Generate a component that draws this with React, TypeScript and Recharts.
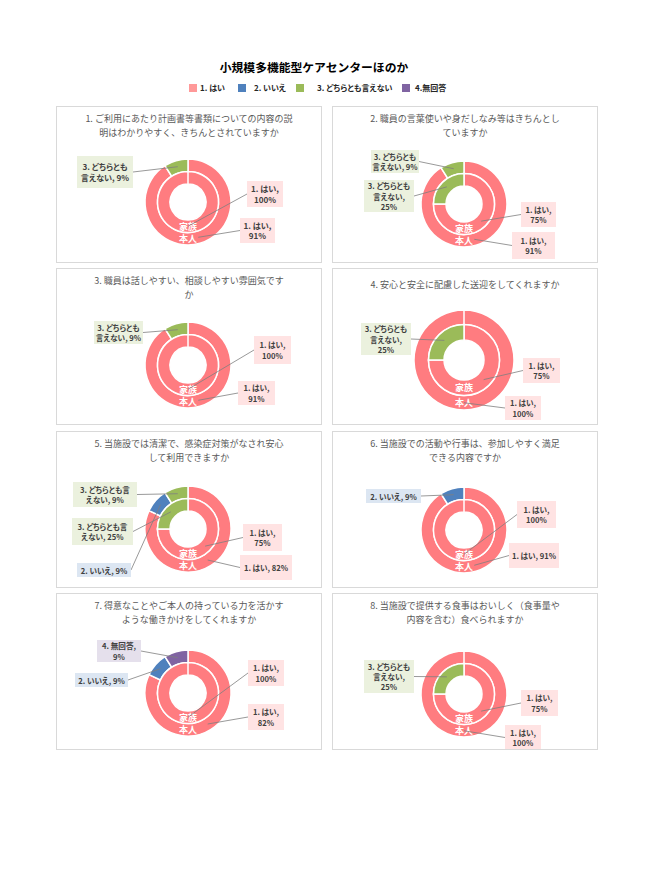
import React from 'react';
import { PieChart, Pie, Cell } from 'recharts';

const categories = ['1. はい', '2. いいえ', '3. どちらとも言えない', '4.無回答'];
const ringNames = ['家族', '本人'];
const chartTitle = '小規模多機能型ケアセンターほのか';
const questionLines = [
  ['1. ご利用にあたり計画書等書類についての内容の説', '明はわかりやすく、きちんとされていますか'],
  ['2. 職員の言葉使いや身だしなみ等はきちんとし', 'ていますか'],
  ['3. 職員は話しやすい、相談しやすい雰囲気です', 'か'],
  ['4. 安心と安全に配慮した送迎をしてくれますか'],
  ['5. 当施設では清潔で、感染症対策がなされ安心', 'して利用できますか'],
  ['6. 当施設での活動や行事は、参加しやすく満足', 'できる内容ですか'],
  ['7. 得意なことやご本人の持っている力を活かす', 'ような働きかけをしてくれますか'],
  ['8. 当施設で提供する食事はおいしく（食事量や', '内容を含む）食べられますか'],
];
// percent per category: [はい, いいえ, どちらとも言えない, 無回答]
const familyValues = [
  [100, 0, 0, 0],
  [75, 0, 25, 0],
  [100, 0, 0, 0],
  [75, 0, 25, 0],
  [75, 0, 25, 0],
  [100, 0, 0, 0],
  [100, 0, 0, 0],
  [75, 0, 25, 0],
];
const selfValues = [
  [91, 0, 9, 0],
  [91, 0, 9, 0],
  [91, 0, 9, 0],
  [100, 0, 0, 0],
  [82, 9, 9, 0],
  [91, 9, 0, 0],
  [82, 9, 0, 9],
  [100, 0, 0, 0],
];

// ---- styles / layout ----
const FONT = '"Noto Sans CJK JP", "Noto Sans", sans-serif';
const SLICE_COLORS = ['#FF7C80', '#4F81BD', '#9BBB59', '#8064A2'];
const LEGEND_COLORS = ['#FF9999', '#4F81BD', '#9BBB59', '#8064A2'];
const BOX_COLORS = ['#FFE3E3', '#DCE6F2', '#EBF1DE', '#E5E0EC'];
const PANEL_LEFTS = [56, 332];
const PANEL_TOPS = [106, 268, 431, 593];
const PANEL_W = 266;
const PANEL_H = 157;

type Box = { ring: number; cat: number; dx: number; dy: number; w: number; h: number; breaks: number[] };
type Layout = { cy: number; big?: boolean; font: number; boxes: Box[] };

const layouts: Layout[] = [
  { cy: 96, font: 8.1, boxes: [
    { ring: 1, cat: 2, dx: -111, dy: -46, w: 56, h: 32, breaks: [8] },
    { ring: 0, cat: 0, dx: 59, dy: -21, w: 36, h: 26, breaks: [6] },
    { ring: 1, cat: 0, dx: 52, dy: 16, w: 35, h: 25, breaks: [6] },
  ] },
  { cy: 98, font: 7.6, boxes: [
    { ring: 1, cat: 2, dx: -93, dy: -54, w: 48, h: 23, breaks: [8] },
    { ring: 0, cat: 2, dx: -100, dy: -24, w: 50, h: 32, breaks: [8, 13] },
    { ring: 0, cat: 0, dx: 57, dy: -2, w: 35, h: 25, breaks: [6] },
    { ring: 1, cat: 0, dx: 48, dy: 28, w: 43, h: 27, breaks: [6] },
  ] },
  { cy: 97, font: 7.6, boxes: [
    { ring: 1, cat: 2, dx: -94, dy: -44, w: 49, h: 23, breaks: [8] },
    { ring: 0, cat: 0, dx: 66, dy: -29, w: 37, h: 28, breaks: [6] },
    { ring: 1, cat: 0, dx: 50, dy: 16, w: 37, h: 24, breaks: [6] },
  ] },
  { cy: 92, big: true, font: 7.6, boxes: [
    { ring: 0, cat: 2, dx: -103, dy: -37, w: 50, h: 32, breaks: [8, 13] },
    { ring: 0, cat: 0, dx: 59, dy: -2, w: 37, h: 25, breaks: [6] },
    { ring: 1, cat: 0, dx: 41, dy: 36, w: 36, h: 24, breaks: [6] },
  ] },
  { cy: 98, font: 7.6, boxes: [
    { ring: 1, cat: 2, dx: -115, dy: -47, w: 64, h: 25, breaks: [9] },
    { ring: 0, cat: 2, dx: -116, dy: -11, w: 61, h: 27, breaks: [9] },
    { ring: 1, cat: 1, dx: -111, dy: 34, w: 54, h: 14, breaks: [] },
    { ring: 0, cat: 0, dx: 55, dy: -5, w: 39, h: 27, breaks: [6] },
    { ring: 1, cat: 0, dx: 52, dy: 26, w: 52, h: 25, breaks: [] },
  ] },
  { cy: 99, font: 7.6, boxes: [
    { ring: 1, cat: 1, dx: -98, dy: -41, w: 55, h: 14, breaks: [] },
    { ring: 0, cat: 0, dx: 53, dy: -29, w: 39, h: 27, breaks: [6] },
    { ring: 1, cat: 0, dx: 45, dy: 13, w: 50, h: 25, breaks: [] },
  ] },
  { cy: 100, font: 7.6, boxes: [
    { ring: 1, cat: 3, dx: -91, dy: -53, w: 44, h: 22, breaks: [7] },
    { ring: 1, cat: 1, dx: -113, dy: -20, w: 53, h: 14, breaks: [] },
    { ring: 0, cat: 0, dx: 60, dy: -33, w: 36, h: 26, breaks: [6] },
    { ring: 1, cat: 0, dx: 60, dy: 11, w: 36, h: 26, breaks: [6] },
  ] },
  { cy: 101, font: 7.6, boxes: [
    { ring: 0, cat: 2, dx: -100, dy: -34, w: 50, h: 33, breaks: [8, 13] },
    { ring: 0, cat: 0, dx: 57, dy: -4, w: 37, h: 26, breaks: [6] },
    { ring: 1, cat: 0, dx: 41, dy: 31, w: 36, h: 25, breaks: [6] },
  ] },
];

const RAD = Math.PI / 180;

function splitLines(s: string, breaks: number[]) {
  const out: string[] = [];
  let prev = 0;
  breaks.forEach((b) => { out.push(s.slice(prev, b).trim()); prev = b; });
  out.push(s.slice(prev).trim());
  return out;
}

function makeLabel(ring: number, layout: Layout) {
  const boxes = layout.boxes;
  return (props: any) => {
    const { cx, cy, midAngle, innerRadius, outerRadius, index } = props;
    const entry = props.payload && props.payload.cat !== undefined ? props.payload : props;
    const cat = entry.cat;
    const value = entry.value;
    const midR = (innerRadius + outerRadius) / 2;
    const px = cx + midR * Math.cos(-midAngle * RAD);
    const py = cy + midR * Math.sin(-midAngle * RAD);
    const els: any[] = [];
    if (index === 0) {
      els.push(
        <text key="rn" x={cx} y={cy + midR} textAnchor="middle" dominantBaseline="central"
          fill="#fff" fontSize={9} fontWeight="bold" fontFamily={FONT}>{ringNames[ring]}</text>
      );
    }
    const box = boxes.find((b) => b.ring === ring && b.cat === cat);
    if (box) {
      const bx = cx + box.dx;
      const by = cy + box.dy;
      let ax = bx, ay = by + box.h / 2;
      if (px > bx + box.w) ax = bx + box.w;
      else if (px >= bx) { ax = bx + box.w / 2; ay = py < by ? by : by + box.h; }
      const name = categories[cat].replace(/^(\d\.)\s*/, '$1 ');
      const lines = splitLines(`${name}, ${value}%`, box.breaks);
      const lh = Math.max(10, layout.font * 1.32);
      const ty = by + box.h / 2 - ((lines.length - 1) * lh) / 2;
      els.push(<line key="ll" x1={px} y1={py} x2={ax} y2={ay} stroke="#7F7F7F" strokeWidth={0.8} />);
      els.push(<rect key="bx" x={bx} y={by} width={box.w} height={box.h} fill={BOX_COLORS[cat]} />);
      els.push(
        <text key="tx" x={bx + box.w / 2} y={ty} textAnchor="middle" fontSize={layout.font} fontWeight="bold"
          fill="#404040" fontFamily={FONT} style={{ fontFeatureSettings: '"palt"' }}>
          {lines.map((l, i) => (
            <tspan key={i} x={bx + box.w / 2} y={ty + i * lh} dominantBaseline="central">{l}</tspan>
          ))}
        </text>
      );
    }
    return <g>{els}</g>;
  };
}

function Panel({ idx }: { idx: number }) {
  const layout = layouts[idx];
  const left = PANEL_LEFTS[idx % 2];
  const top = PANEL_TOPS[Math.floor(idx / 2)];
  const toData = (vals: number[]) =>
    vals.map((v, i) => ({ name: categories[i], value: v, cat: i })).filter((d) => d.value > 0);
  const famData = toData(familyValues[idx]);
  const selfData = toData(selfValues[idx]);
  const r = layout.big
    ? { h: 20, m: 35.5, o: 50 }
    : { h: 18, m: 30.5, o: 43 };
  const cx = 131;
  const cy = layout.cy - 1;
  const lines = questionLines[idx];
  return (
    <div style={{ position: 'absolute', left, top, width: PANEL_W, height: PANEL_H, boxSizing: 'border-box',
      border: '1px solid #D9D9D9', background: '#fff' }}>
      <div style={{ position: 'absolute', left: 0, top: lines.length === 1 ? 9 : 5, width: PANEL_W - 2,
        textAlign: 'center', fontSize: 9, lineHeight: '14px', color: '#595959', fontFamily: FONT, whiteSpace: 'nowrap' }}>
        {lines.map((l, i) => <div key={i}>{l}</div>)}
      </div>
      <div style={{ position: 'absolute', left: 0, top: 0 }}>
        <PieChart width={PANEL_W - 2} height={PANEL_H - 2} margin={{ top: 0, right: 0, bottom: 0, left: 0 }}>
          <Pie data={selfData} dataKey="value" nameKey="name" cx={cx} cy={cy} innerRadius={r.m} outerRadius={r.o}
            startAngle={90} endAngle={-270} stroke="#fff" strokeWidth={1.5} isAnimationActive={false}
            labelLine={false} label={makeLabel(1, layout)}>
            {selfData.map((d) => <Cell key={d.cat} fill={SLICE_COLORS[d.cat]} />)}
          </Pie>
          <Pie data={famData} dataKey="value" nameKey="name" cx={cx} cy={cy} innerRadius={r.h} outerRadius={r.m}
            startAngle={90} endAngle={-270} stroke="#fff" strokeWidth={1.5} isAnimationActive={false}
            labelLine={false} label={makeLabel(0, layout)}>
            {famData.map((d) => <Cell key={d.cat} fill={SLICE_COLORS[d.cat]} />)}
          </Pie>
        </PieChart>
      </div>
    </div>
  );
}

const LEGEND_SQ_X = [189, 238, 296, 402];
const LEGEND_TX_X = [200, 254, 317, 415];

export default function App() {
  return (
    <div style={{ position: 'absolute', left: 0, top: 0, width: 661, height: 895, background: '#fff', fontFamily: FONT }}>
      <div style={{ position: 'absolute', left: 0, top: 58, width: 628, textAlign: 'center', fontSize: 11.8,
        fontWeight: 'bold', color: '#000', lineHeight: '18px' }}>{chartTitle}</div>
      {categories.map((c, i) => (
        <React.Fragment key={c}>
          <div style={{ position: 'absolute', left: LEGEND_SQ_X[i], top: 84, width: 8, height: 8, background: LEGEND_COLORS[i] }} />
          <div style={{ position: 'absolute', left: LEGEND_TX_X[i], top: 82, fontSize: 8, lineHeight: '12px',
            fontWeight: 'bold', color: '#262626', whiteSpace: 'nowrap', fontFeatureSettings: '"palt"' }}>{c}</div>
        </React.Fragment>
      ))}
      {questionLines.map((_, i) => <Panel key={i} idx={i} />)}
    </div>
  );
}
